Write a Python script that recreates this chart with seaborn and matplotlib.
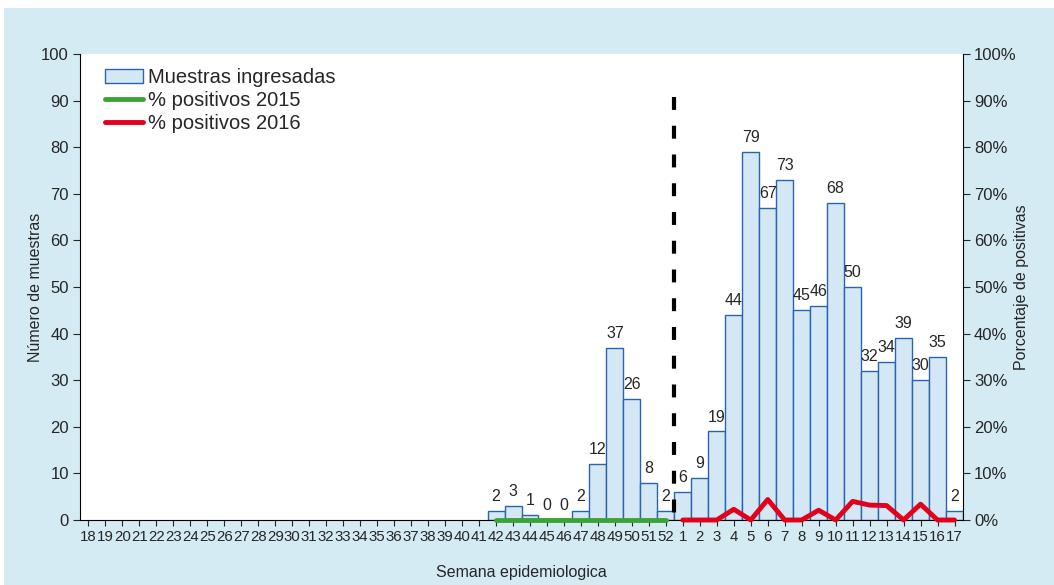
import matplotlib
matplotlib.use("Agg")
import matplotlib.pyplot as plt
from matplotlib.patches import Rectangle
from matplotlib.lines import Line2D
from matplotlib.ticker import FuncFormatter
import seaborn as sns
import pandas as pd

# x categories: epidemiological weeks 18-52 (2015) then 1-17 (2016)
weeks = [str(w) for w in range(18, 53)] + [str(w) for w in range(1, 18)]

# samples received (only weeks with data)
sample_weeks = ["42", "43", "44", "45", "46", "47", "48", "49", "50", "51", "52",
                "1", "2", "3", "4", "5", "6", "7", "8", "9", "10", "11", "12",
                "13", "14", "15", "16", "17"]
samples = [2, 3, 1, 0, 0, 2, 12, 37, 26, 8, 2,
           6, 9, 19, 44, 79, 67, 73, 45, 46, 68, 50, 32, 34, 39, 30, 35, 2]

# % positives
weeks_2015 = ["42", "43", "44", "45", "46", "47", "48", "49", "50", "51", "52"]
pct_2015 = [0, 0, 0, 0, 0, 0, 0, 0, 0, 0, 0]
weeks_2016 = [str(w) for w in range(1, 18)]
pct_2016 = [0, 0, 0, 2.3, 0, 4.4, 0, 0, 2.1, 0, 4.0, 3.2, 3.1, 0, 3.4, 0, 0]

BG = "#d5ebf3"
BAR_FILL = "#d3e8f4"
BAR_EDGE = "#2a64b0"
GREEN = "#3ba435"
RED = "#e2001a"

sns.set_style("white")
plt.rcParams["font.family"] = ["Liberation Sans", "DejaVu Sans"]

fig = plt.figure(figsize=(10.54, 5.85), dpi=100)
fig.patch.set_facecolor("white")
fig.patches.append(Rectangle((4 / 1054, 0), 1, 577 / 585, transform=fig.transFigure,
                             facecolor=BG, edgecolor="none", zorder=-10))
ax = fig.add_axes([80 / 1054, 1 - 520 / 585, 883 / 1054, 466 / 585])
ax.set_facecolor("white")

df = pd.DataFrame({"week": sample_weeks, "n": samples})
sns.barplot(data=df, x="week", y="n", order=weeks, ax=ax, width=1.0,
            color=BAR_FILL, edgecolor=BAR_EDGE, linewidth=1.0, saturation=1)
for bar in ax.patches:
    bar.set_facecolor(BAR_FILL)
ax.bar_label(ax.containers[0], fontsize=11.5, padding=5)

ax.set_xlim(-0.5, len(weeks) - 0.5)
ax.set_ylim(0, 100)
ax.set_yticks(range(0, 101, 10))
ax.set_xlabel("Semana epidemiologica", fontsize=11.5)
ax.set_ylabel("Número de muestras", fontsize=11.5)
ax.xaxis.set_label_coords(0.5, -0.097)
ax.yaxis.set_label_coords(-0.042, 0.5)
ax.tick_params(axis="x", labelsize=10.8, length=4, direction="out", bottom=True, pad=3)
ax.tick_params(axis="y", labelsize=12, length=5, direction="out", left=True, pad=3)
for s in ["top", "right"]:
    ax.spines[s].set_visible(False)
for s in ["left", "bottom"]:
    ax.spines[s].set_color("black")

ax2 = ax.twinx()
pos = {w: i for i, w in enumerate(weeks)}
sns.lineplot(x=[pos[w] for w in weeks_2015], y=pct_2015, ax=ax2, color=GREEN,
             linewidth=3.5, solid_capstyle="round", clip_on=False)
sns.lineplot(x=[pos[w] for w in weeks_2016], y=pct_2016, ax=ax2, color=RED,
             linewidth=3.5, solid_capstyle="round", clip_on=False)
ax2.set_ylim(0, 100)
ax2.set_yticks(range(0, 101, 10))
ax2.yaxis.set_major_formatter(FuncFormatter(lambda v, p: f"{int(v)}%"))
ax2.tick_params(axis="y", labelsize=12, length=5, direction="out", right=True, pad=3)
ax2.set_ylabel("Porcentaje de positivas", fontsize=11.5)
ax2.yaxis.set_label_coords(1.058, 0.5)
ax2.spines["top"].set_visible(False)
ax2.spines["left"].set_visible(False)
ax2.spines["bottom"].set_visible(False)
ax2.spines["right"].set_color("black")

# divider between 2015 and 2016 (drawn top-down so the dash pattern starts at the top)
split = (pos["52"] + pos["1"]) / 2
ax2.plot([split, split], [90.8, -1.8], color="black", linestyle=(0, (3.1, 3.8)),
         linewidth=3, clip_on=False, zorder=5)

handles = [Rectangle((0, 0), 1, 1, facecolor=BAR_FILL, edgecolor=BAR_EDGE),
           Line2D([], [], color=GREEN, linewidth=3.5),
           Line2D([], [], color=RED, linewidth=3.5)]
ax2.legend(handles, ["Muestras ingresadas", "% positivos 2015", "% positivos 2016"],
           loc="upper left", bbox_to_anchor=(0.012, 1.0), frameon=False,
           handlelength=1.9, handletextpad=0.25, labelspacing=0.2, borderaxespad=0.3,
           prop={"size": 14.5})

fig.savefig("out.png", dpi=100, facecolor=fig.get_facecolor())
